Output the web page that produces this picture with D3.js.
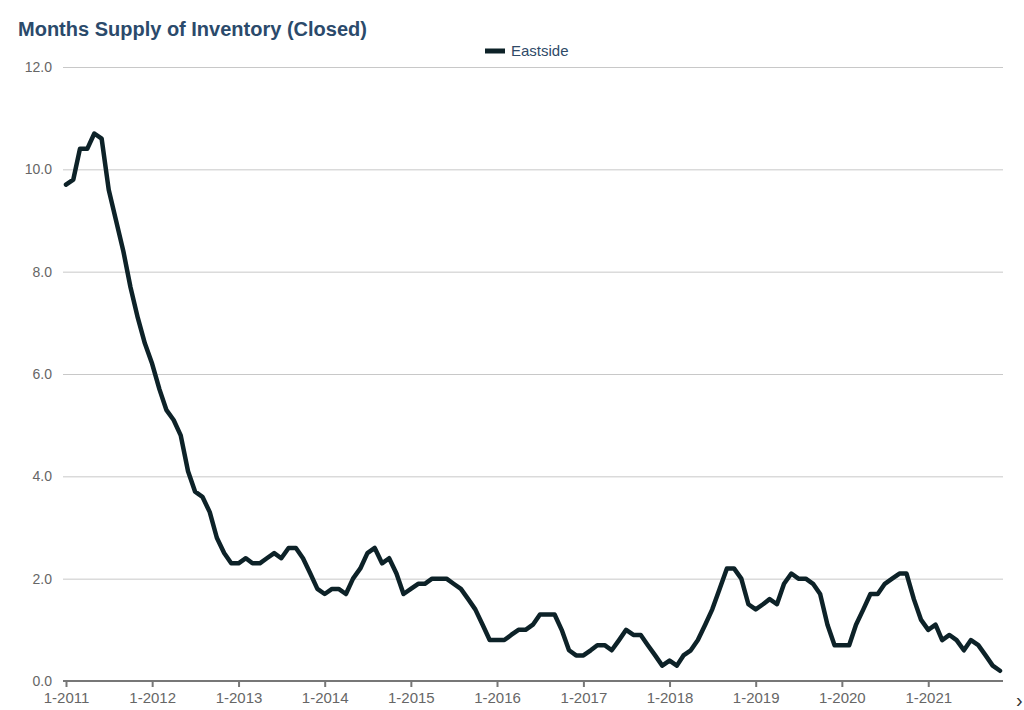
<!DOCTYPE html>
<html>
<head>
<meta charset="utf-8">
<script src="https://cdn.jsdelivr.net/npm/d3@7/dist/d3.min.js"></script>
<style>
  html, body { margin: 0; padding: 0; background: #fff; }
  svg { display: block; font-family: "Liberation Sans", Arial, sans-serif; }
  .grid line { stroke: #c8c8c8; stroke-width: 1; }
  .y-label { fill: #666; font-size: 14px; }
  .x-axis text { fill: #666; font-size: 15px; }
</style>
</head>
<body>
<svg id="chart"></svg>
<script>
// 数据：每月一个点，2011年1月到2021年11月
const seriesName = 'Eastside';
const startMonth = '2011-01';
const supply = [
  9.7, 9.8, 10.4, 10.4, 10.7, 10.6, 9.6, 9.0, 8.4, 7.7, 7.1, 6.6,   // 2011
  6.2, 5.7, 5.3, 5.1, 4.8, 4.1, 3.7, 3.6, 3.3, 2.8, 2.5, 2.3,       // 2012
  2.3, 2.4, 2.3, 2.3, 2.4, 2.5, 2.4, 2.6, 2.6, 2.4, 2.1, 1.8,       // 2013
  1.7, 1.8, 1.8, 1.7, 2.0, 2.2, 2.5, 2.6, 2.3, 2.4, 2.1, 1.7,       // 2014
  1.8, 1.9, 1.9, 2.0, 2.0, 2.0, 1.9, 1.8, 1.6, 1.4, 1.1, 0.8,       // 2015
  0.8, 0.8, 0.9, 1.0, 1.0, 1.1, 1.3, 1.3, 1.3, 1.0, 0.6, 0.5,       // 2016
  0.5, 0.6, 0.7, 0.7, 0.6, 0.8, 1.0, 0.9, 0.9, 0.7, 0.5, 0.3,       // 2017
  0.4, 0.3, 0.5, 0.6, 0.8, 1.1, 1.4, 1.8, 2.2, 2.2, 2.0, 1.5,       // 2018
  1.4, 1.5, 1.6, 1.5, 1.9, 2.1, 2.0, 2.0, 1.9, 1.7, 1.1, 0.7,       // 2019
  0.7, 0.7, 1.1, 1.4, 1.7, 1.7, 1.9, 2.0, 2.1, 2.1, 1.6, 1.2,       // 2020
  1.0, 1.1, 0.8, 0.9, 0.8, 0.6, 0.8, 0.7, 0.5, 0.3, 0.2             // 2021
];
const yTicks = [0, 2, 4, 6, 8, 10, 12];
const xTickYears = [2011, 2012, 2013, 2014, 2015, 2016, 2017, 2018, 2019, 2020, 2021];

const width = 1024;
const height = 710;
const lineColor = '#0d2228';

const svg = d3.select('#chart')
  .attr('width', width)
  .attr('height', height)
  .attr('viewBox', `0 0 ${width} ${height}`);

const t0 = d3.timeParse('%Y-%m')(startMonth);
const data = supply.map((v, i) => ({ date: d3.timeMonth.offset(t0, i), value: v }));

// 比例尺
const x = d3.scaleTime()
  .domain([t0, data[data.length - 1].date])
  .range([66, 1000]);
const y = d3.scaleLinear()
  .domain([0, 12])
  .range([681, 67]);

const gridLeft = 63;
const gridRight = 1003;

// 标题
svg.append('text')
  .attr('x', 18)
  .attr('y', 36)
  .attr('fill', '#2b4a6b')
  .attr('font-size', '20px')
  .attr('font-weight', 'bold')
  .text('Months Supply of Inventory (Closed)');

// 图例
const legend = svg.append('g').attr('transform', 'translate(485, 51)');
legend.append('line')
  .attr('x1', 0).attr('x2', 20)
  .attr('y1', 0).attr('y2', 0)
  .attr('stroke', lineColor)
  .attr('stroke-width', 5);
legend.append('text')
  .attr('x', 26)
  .attr('y', 5)
  .attr('fill', '#2f4a68')
  .attr('font-size', '15px')
  .text(seriesName);

// 网格线
svg.append('g')
  .attr('class', 'grid')
  .selectAll('line')
  .data(yTicks.filter(d => d > 0))
  .enter().append('line')
  .attr('x1', gridLeft)
  .attr('x2', gridRight)
  .attr('y1', d => y(d) + 0.5)
  .attr('y2', d => y(d) + 0.5);

// y轴标签
svg.append('g')
  .selectAll('text')
  .data(yTicks)
  .enter().append('text')
  .attr('class', 'y-label')
  .attr('x', 52)
  .attr('y', d => y(d) + 5)
  .attr('text-anchor', 'end')
  .text(d => d.toFixed(1));

// x轴
const xAxis = d3.axisBottom(x)
  .tickValues(xTickYears.map(yr => new Date(yr, 0, 1)))
  .tickFormat(d3.timeFormat('%-m-%Y'))
  .tickSize(6)
  .tickSizeOuter(0)
  .tickPadding(5);

const gx = svg.append('g')
  .attr('class', 'x-axis')
  .attr('transform', `translate(0, ${y(0)})`)
  .call(xAxis);
gx.select('.domain').remove();
gx.selectAll('.tick line').attr('stroke', '#777').attr('stroke-width', 2);
gx.attr('font-family', null).attr('font-size', null);
gx.append('line')
  .attr('x1', gridLeft)
  .attr('x2', gridRight)
  .attr('y1', 0)
  .attr('y2', 0)
  .attr('stroke', '#777')
  .attr('stroke-width', 2);

// 折线
const line = d3.line()
  .x(d => x(d.date))
  .y(d => y(d.value));

svg.append('path')
  .datum(data)
  .attr('d', line)
  .attr('fill', 'none')
  .attr('stroke', lineColor)
  .attr('stroke-width', 4.5)
  .attr('stroke-linejoin', 'round')
  .attr('stroke-linecap', 'round');

// 右下角被裁掉的箭头
svg.append('text')
  .attr('x', 1016)
  .attr('y', 707)
  .attr('fill', '#333')
  .attr('font-size', '20px')
  .text('›');
</script>
</body>
</html>
